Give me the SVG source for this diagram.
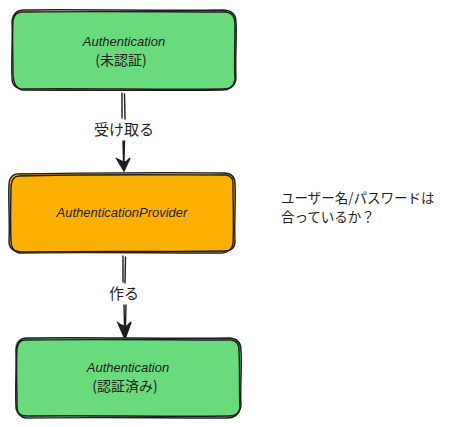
<svg xmlns="http://www.w3.org/2000/svg" width="455" height="427" viewBox="0 0 455 427">
<style>
.stroke{fill:none;stroke:#1e1e1e;stroke-width:1.4;stroke-linecap:round}
.lat{font-family:"Liberation Sans","Noto Sans CJK JP",sans-serif;font-size:13px;fill:#1e1e1e;text-anchor:middle;font-style:italic}
.jp{font-family:"Noto Sans CJK JP","Noto Sans",sans-serif;font-size:13.5px;fill:#1e1e1e}
.jpc{font-family:"Noto Sans CJK JP","Noto Sans",sans-serif;font-size:14px;fill:#1e1e1e;text-anchor:middle}
.lbl{font-family:"Noto Sans CJK JP","Noto Sans",sans-serif;font-size:15px;fill:#1e1e1e;text-anchor:middle}
</style>
<rect width="455" height="427" fill="#ffffff"/>
<g id="connectors">
  <g id="edge1">
    <path class="stroke" d="M122 93 L122 118 M124.5 94 L125 119" stroke-width="1.6"/>
    <path class="stroke" d="M123 141 L123.5 160 M124.5 141 L124 161" stroke-width="2"/>
    <path d="M117 159 L124 171 L130 158 L126 162 L121 161 Z" fill="#1e1e1e" stroke="#1e1e1e" stroke-width="1.5"/>
    <text class="lbl" x="124" y="135">受け取る</text>
  </g>
  <g id="edge2">
    <path class="stroke" d="M123 256 L123 282 M125.5 257 L125 283" stroke-width="1.6"/>
    <path class="stroke" d="M124 305 L124.5 326 M126 305 L125.5 327" stroke-width="2"/>
    <path d="M118 323 L125 339 L131 322 L126 327 L121 325 Z" fill="#1e1e1e" stroke="#1e1e1e" stroke-width="1.5"/>
    <text class="lbl" x="124" y="299">作る</text>
  </g>
</g>
<g id="node1">
  <path d="M22 11 L226 11 Q236 11 236 22 L236 78 Q236 89 225 89 L24 90 Q13 90 13 78 L12 22 Q12 11 22 11 Z" fill="#69db7c"/>
  <path class="stroke" d="M24 10 C80 9 160 11 224 10 Q236 11 236 22 C237 40 235 60 236 78 Q235 89 224 89 C160 90 80 88 24 89 Q12 89 12 78 C11 60 13 40 12 22 Q13 10 24 10 Z"/>
  <path class="stroke" d="M22 12 C90 11 170 12 226 12 Q235 13 235 24 C235 45 234 62 235 80 Q233 90 222 90 C150 91 70 90 22 90 Q14 88 13 76 C13 55 12 38 13 20 Q15 12 22 12" stroke-width="1"/>
  <text class="lat" x="124" y="46">Authentication</text>
  <text class="jpc" x="121" y="65">(未認証)</text>
</g>
<g id="node2">
  <path d="M20 173 L225 173 Q235 173 235 184 L235 241 Q235 252 224 252 L20 252 Q9 252 9 241 L9 184 Q9 173 20 173 Z" fill="#fab005"/>
  <path class="stroke" d="M20 174 C80 173 160 172 224 173 Q235 173 235 184 C236 200 234 225 235 241 Q235 251 224 251 C160 252 80 251 20 252 Q9 251 9 241 C10 220 8 200 9 184 Q10 173 20 174 Z"/>
  <path class="stroke" d="M19 176 C90 174 170 175 226 175 Q234 176 233 186 C233 205 234 225 233 243 Q232 252 222 253 C150 253 80 252 19 253 Q11 251 11 240 C10 218 11 200 11 186 Q12 176 19 176" stroke-width="1"/>
  <text class="lat" x="122" y="217">AuthenticationProvider</text>
</g>
<g id="node3">
  <path d="M26 338 L231 338 Q241 338 241 349 L241 406 Q241 417 230 417 L26 417 Q15 417 15 406 L15 349 Q15 338 26 338 Z" fill="#69db7c"/>
  <path class="stroke" d="M27 338 C90 337 170 339 230 338 Q241 339 241 350 C242 370 240 390 241 405 Q240 416 229 416 C160 417 90 415 27 416 Q16 416 16 405 C15 385 17 365 16 350 Q17 338 27 338 Z"/>
  <path class="stroke" d="M25 340 C90 339 170 340 231 340 Q240 341 239 352 C240 372 239 390 240 408 Q238 418 227 418 C160 418 90 417 26 418 Q17 417 17 406 C17 385 16 365 17 349 Q18 340 25 340" stroke-width="1"/>
  <text class="lat" x="128" y="372">Authentication</text>
  <text class="jpc" x="125" y="391">(認証済み)</text>
</g>
<g id="note">
  <text class="jp" x="281" y="203">ユーザー名/パスワードは</text>
  <text class="jp" x="281" y="222">合っているか？</text>
</g>
</svg>
